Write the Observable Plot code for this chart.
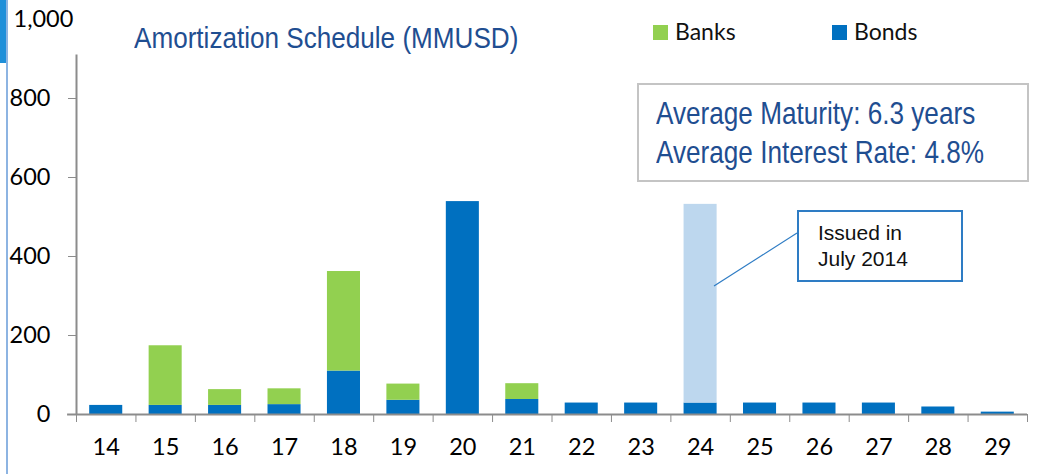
<!DOCTYPE html>
<html>
<head>
<meta charset="utf-8">
<script src="https://cdn.jsdelivr.net/npm/d3@7"></script>
<script src="https://cdn.jsdelivr.net/npm/@observablehq/plot@0.6"></script>
<style>
  html, body { margin: 0; padding: 0; background: #fff; }
  #wrap { position: relative; width: 1049px; height: 474px; overflow: hidden; }
  .ov { position: absolute; white-space: nowrap; transform-origin: 0 0; }
</style>
</head>
<body>
<div id="wrap"></div>
<script>
// ---- data ----
const years   = [14, 15, 16, 17, 18, 19, 20, 21, 22, 23, 24, 25, 26, 27, 28, 29];
const bonds   = [23, 23, 23, 25, 110, 36, 539, 38, 29, 29, 29, 29, 29, 29, 19, 6];
const banks   = [0, 151, 40, 40, 252, 41, 0, 40, 0, 0, 0, 0, 0, 0, 0, 0];
const issued  = [0, 0, 0, 0, 0, 0, 0, 0, 0, 0, 503, 0, 0, 0, 0, 0];
const yTicks  = [0, 200, 400, 600, 800];
const yTop    = 1000;
const seriesNames = ["Banks", "Bonds"];
const colors = { Banks: "#92D050", Bonds: "#0070C0", Issued: "#BDD7EE" };
const title = "Amortization Schedule (MMUSD)";
const boxLines = ["Average Maturity: 6.3 years", "Average Interest Rate: 4.8%"];
const noteLines = ["Issued in", "July 2014"];

// ---- build rows ----
const half = 0.278;
const rows = [];
years.forEach((yr, i) => {
  rows.push({yr, y1: 0, y2: bonds[i], s: "Bonds"});
  if (banks[i] > 0) rows.push({yr, y1: bonds[i], y2: bonds[i] + banks[i], s: "Banks"});
  if (issued[i] > 0) rows.push({yr, y1: bonds[i], y2: bonds[i] + issued[i], s: "Issued"});
});
const bounds = d3.range(years.length + 1).map(k => years[0] - 0.5 + k);

const axisGray = "#8c8c8c";
const chart = Plot.plot({
  width: 1049,
  height: 474,
  marginLeft: 76,
  marginRight: 22,
  marginTop: 19,
  marginBottom: 60,
  style: { fontFamily: "Lato, sans-serif", background: "transparent" },
  x: { type: "linear", domain: [years[0] - 0.5, years[years.length - 1] + 0.5] },
  y: { domain: [0, yTop] },
  marks: [
    Plot.rect(rows, {
      x1: d => d.yr - half, x2: d => d.yr + half,
      y1: "y1", y2: "y2",
      fill: d => colors[d.s]
    }),
    Plot.ruleX([years[0] - 0.5], {y1: 0, y2: 910, stroke: axisGray, strokeWidth: 2}),
    Plot.ruleY([0], {x1: years[0] - 0.5 - 0.15, x2: years[years.length - 1] + 0.5, stroke: axisGray, strokeWidth: 2}),
    Plot.axisY(yTicks, {
      tickSize: 8, tickPadding: 18, stroke: axisGray, fill: "black",
      fontSize: 23.5, tickFormat: d3.format(","), label: null
    }),
    Plot.text([yTop], {
      y: d => d, text: d => d3.format(",")(d), frameAnchor: "left",
      dx: -63, textAnchor: "start", fontSize: 23.5, fill: "black"
    }),
    Plot.axisX(bounds, {tickSize: 8, tickFormat: () => "", stroke: axisGray, label: null}),
    Plot.axisX(years, {tickSize: 0, tickPadding: 24, fontSize: 23.5, fill: "black", tickFormat: d => String(d), label: null})
  ]
});
const wrap = document.getElementById("wrap");
chart.style.position = "absolute";
chart.style.left = "0px";
chart.style.top = "0px";
wrap.appendChild(chart);

function addDiv(css, text) {
  const d = document.createElement("div");
  d.className = "ov";
  Object.assign(d.style, css);
  if (text != null) d.textContent = text;
  wrap.appendChild(d);
  return d;
}

// left decorations
addDiv({left: "0px", top: "0px", width: "6px", height: "63px", background: "#1E8FD9"});
addDiv({left: "6px", top: "0px", width: "2px", height: "474px", background: "#8DB4E2"});

// title
addDiv({left: "134px", top: "22px", fontFamily: "'Liberation Sans', Arial, sans-serif", fontSize: "29px", color: "#1F4E91", lineHeight: "32px", transform: "scaleX(0.9)"}, title);

// legend
const legX = [653, 832];
seriesNames.forEach((n, i) => {
  addDiv({left: legX[i] + "px", top: "25px", width: "15px", height: "15px", background: colors[n]});
  addDiv({left: (legX[i] + 22) + "px", top: "16px", fontFamily: "Lato, sans-serif", fontSize: "23px", color: "#111", lineHeight: "30px"}, n);
});

// summary box
addDiv({left: "637px", top: "83px", width: "388px", height: "95px", border: "2px solid #C4C4C4"});
boxLines.forEach((t, i) => {
  addDiv({left: "656px", top: (97 + i * 38.5) + "px", fontFamily: "'Liberation Sans', Arial, sans-serif", fontSize: "31.5px", color: "#1F4E91", lineHeight: "33px", transform: "scaleX(0.83)"}, t);
});

// note box
addDiv({left: "797px", top: "210px", width: "162px", height: "68px", border: "2px solid #2E7CC4"});
noteLines.forEach((t, i) => {
  addDiv({left: "818px", top: (221 + i * 26) + "px", fontFamily: "'Liberation Sans', Arial, sans-serif", fontSize: "21px", color: "#111", lineHeight: "24px"}, t);
});
// leader line
const ns = "http://www.w3.org/2000/svg";
const svg = document.createElementNS(ns, "svg");
svg.setAttribute("width", 1049); svg.setAttribute("height", 474);
svg.style.position = "absolute"; svg.style.left = "0"; svg.style.top = "0"; svg.style.pointerEvents = "none";
const ln = document.createElementNS(ns, "line");
ln.setAttribute("x1", 797); ln.setAttribute("y1", 233);
ln.setAttribute("x2", 714); ln.setAttribute("y2", 286);
ln.setAttribute("stroke", "#2E7CC4"); ln.setAttribute("stroke-width", 1.2);
svg.appendChild(ln);
wrap.appendChild(svg);
</script>
</body>
</html>
